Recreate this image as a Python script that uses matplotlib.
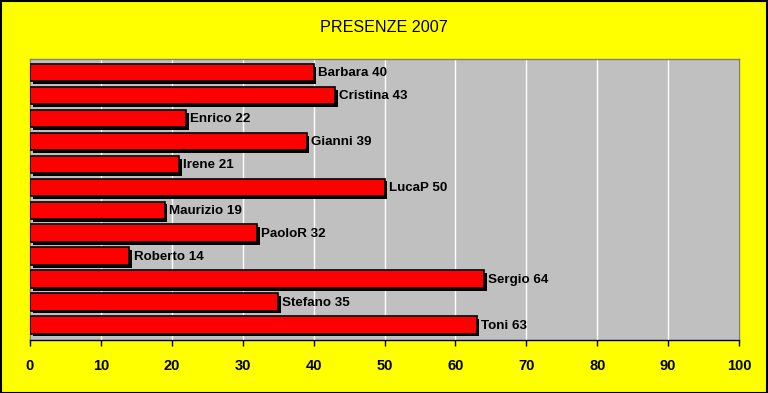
import matplotlib
matplotlib.use("Agg")
import matplotlib.pyplot as plt
import matplotlib.patheffects as pe

plt.rcParams['font.family'] = ['Liberation Sans', 'DejaVu Sans']

names = ["Barbara", "Cristina", "Enrico", "Gianni", "Irene", "LucaP",
         "Maurizio", "PaoloR", "Roberto", "Sergio", "Stefano", "Toni"]
presenze = [40, 43, 22, 39, 21, 50, 19, 32, 14, 64, 35, 63]
xticks = list(range(0, 101, 10))

fig = plt.figure(figsize=(7.68, 3.93), dpi=100, facecolor='#ffff00')
ax = fig.add_axes([30 / 768, 1 - 340 / 393, 709 / 768, 281 / 393])
ax.set_facecolor('#c0c0c0')

pos = list(range(len(names)))
bars = ax.barh(pos, presenze, height=0.76, color='#ff0000', edgecolor='black',
               linewidth=1.2, zorder=3)
for b in bars:
    b.set_path_effects([pe.SimplePatchShadow(offset=(2, -2), shadow_rgbFace='black', alpha=1.0),
                        pe.Normal()])

for y, n, v in zip(pos, names, presenze):
    ax.text(v + 0.6, y + 0.03, f"{n} {v}", va='center', ha='left', fontsize=9.6,
            fontweight='bold', color='black', zorder=4)

ax.set_xlim(0, 100)
ax.set_ylim(11.66, -0.6)
ax.set_xticks(xticks)
ax.set_yticks([])
ax.grid(axis='x', color='white', linewidth=1, zorder=1)
ax.tick_params(axis='x', direction='out', length=4, width=1, colors='black',
               labelsize=10.5, pad=10)
for lab in ax.get_xticklabels():
    lab.set_fontweight('bold')

for s in ['top', 'right', 'left']:
    ax.spines[s].set_color('#808080')
    ax.spines[s].set_linewidth(1)
ax.spines['bottom'].set_color('black')
ax.spines['bottom'].set_linewidth(1)

fig.text(384 / 768, 1 - 27 / 393, "PRESENZE 2007", ha='center', va='center', fontsize=11.6)

fig.patches.append(plt.Rectangle((0.0007, 0.001), 0.9985, 0.997, transform=fig.transFigure,
                                 fill=False, edgecolor='black', linewidth=1.5))

fig.savefig("out.png", dpi=100, facecolor=fig.get_facecolor())
